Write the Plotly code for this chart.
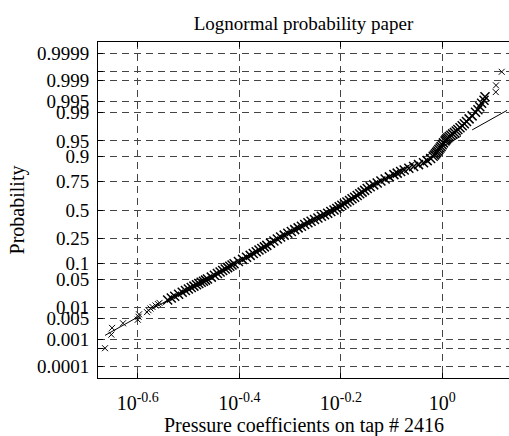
import numpy as np
import plotly.graph_objects as go
from statistics import NormalDist

# Sorted pressure coefficients and their plotting probabilities
cp = [
    0.2165, 0.2228, 0.2235, 0.2349, 0.2512, 0.2521, 0.2526, 0.2619, 0.2637, 0.2661,
    0.2685, 0.2722, 0.2753, 0.2772,
    0.2876, 0.2924, 0.2970, 0.3023, 0.3073, 0.3118, 0.3160, 0.3201, 0.3240, 0.3279,
    0.3313, 0.3349, 0.3383, 0.3415, 0.3446, 0.3506, 0.3556, 0.3605, 0.3649, 0.3692,
    0.3735, 0.3776, 0.3813, 0.3852, 0.3888, 0.3965, 0.4041, 0.4114, 0.4183, 0.4242,
    0.4299, 0.4353, 0.4409, 0.4461, 0.4510, 0.4587, 0.4658, 0.4731, 0.4802, 0.4881,
    0.4961, 0.5041, 0.5119, 0.5199, 0.5277, 0.5357, 0.5435, 0.5514, 0.5600, 0.5687,
    0.5776, 0.5860, 0.5946, 0.6030, 0.6118, 0.6196, 0.6264, 0.6339, 0.6414, 0.6487,
    0.6564, 0.6639, 0.6718, 0.6797, 0.6875, 0.6950, 0.7030, 0.7113, 0.7210, 0.7326,
    0.7443, 0.7569, 0.7715, 0.7863, 0.8029, 0.8150, 0.8277, 0.8413, 0.8591, 0.8780,
    0.8977, 0.9183, 0.9338, 0.9484, 0.9596, 0.9653, 0.9701, 0.9745, 0.9794, 0.9843,
    0.9897, 0.9946, 0.9995, 1.0050, 1.0123, 1.0165, 1.0206, 1.0257, 1.0323, 1.0398,
    1.0478, 1.0564, 1.0651, 1.0731, 1.0836, 1.0945, 1.1050, 1.1161, 1.1293, 1.1448,
    1.1626, 1.1753, 1.1855, 1.1952, 1.2083, 1.2138, 1.2745, 1.2759, 1.3093,
]
prob = [
    0.0005, 0.0015, 0.0025, 0.0035, 0.0045, 0.0055, 0.0065, 0.0075, 0.0085, 0.0095,
    0.0105, 0.0115, 0.0125, 0.0135,
    0.016, 0.018, 0.02, 0.0225, 0.025, 0.0275, 0.03, 0.0325, 0.035, 0.0375,
    0.04, 0.0425, 0.045, 0.0475, 0.05, 0.055, 0.06, 0.065, 0.07, 0.075,
    0.08, 0.085, 0.09, 0.095, 0.1, 0.11, 0.12, 0.13, 0.14, 0.15,
    0.16, 0.17, 0.18, 0.19, 0.2, 0.215, 0.23, 0.245, 0.26, 0.275,
    0.29, 0.305, 0.32, 0.335, 0.35, 0.365, 0.38, 0.395, 0.41, 0.425,
    0.44, 0.455, 0.47, 0.485, 0.5, 0.515, 0.53, 0.545, 0.56, 0.575,
    0.59, 0.605, 0.62, 0.635, 0.65, 0.665, 0.68, 0.695, 0.71, 0.725,
    0.74, 0.755, 0.77, 0.785, 0.8, 0.81, 0.82, 0.83, 0.84, 0.85,
    0.86, 0.87, 0.88, 0.89, 0.9, 0.905, 0.91, 0.915, 0.92, 0.925,
    0.93, 0.935, 0.94, 0.945, 0.95, 0.9525, 0.955, 0.9575, 0.96, 0.9625,
    0.965, 0.9675, 0.97, 0.9725, 0.975, 0.9775, 0.98, 0.9825, 0.985, 0.9875,
    0.99, 0.9915, 0.993, 0.9945, 0.9955, 0.9965, 0.9975, 0.9985, 0.9995,
]

# Probability-paper tick marks (blank label = grid line only)
prob_ticks = [0.0001, 0.0005, 0.001, 0.005, 0.01, 0.05, 0.1, 0.25, 0.5,
              0.75, 0.9, 0.95, 0.99, 0.995, 0.999, 0.9995, 0.9999]
prob_labels = ["0.0001", "", "0.001", "0.005", "0.01", "0.05", "0.1", "0.25", "0.5",
               "0.75", "0.9", "0.95", "0.99", "0.995", "0.999", "", "0.9999"]
x_exponents = [-0.6, -0.4, -0.2, 0]

nd = NormalDist()
z = np.array([nd.inv_cdf(p) for p in prob])
z_ticks = [nd.inv_cdf(p) for p in prob_ticks]
logcp = np.log10(cp)
prob_arr = np.array(prob)

# Reference line through the first and third quartiles (log scale)
z1, z3 = nd.inv_cdf(0.25), nd.inv_cdf(0.75)
q1 = np.interp(z1, z, logcp)
q3 = np.interp(z3, z, logcp)
slope = (z3 - z1) / (q3 - q1)


def line_z(lx):
    return z1 + slope * (np.asarray(lx) - q1)


x_lo, x_hi = -0.6784, 0.1314
font_family = "Liberation Serif, Times New Roman, serif"

fig = go.Figure()

# extrapolated parts of the reference line
left_lx = np.array([q1, logcp.min()])
right_lx = np.array([q3, 0.2])
for seg in (left_lx, right_lx):
    fig.add_trace(go.Scatter(
        x=10 ** seg, y=line_z(seg), mode="lines",
        line=dict(color="black", width=1, dash="40px,13px"),
        hoverinfo="skip", showlegend=False))
# solid part between the quartiles
mid_lx = np.array([q1, q3])
fig.add_trace(go.Scatter(
    x=10 ** mid_lx, y=line_z(mid_lx), mode="lines",
    line=dict(color="black", width=1), hoverinfo="skip", showlegend=False))

# sample points: sparse tails drawn lighter than the dense body
tail = (prob_arr < 0.015) | (prob_arr > 0.997)
for mask, size, lw in ((tail, 6, 1.0), (~tail, 9, 1.5)):
    fig.add_trace(go.Scatter(
        x=np.array(cp)[mask], y=z[mask], mode="markers",
        marker=dict(symbol="x-thin", size=size, color="black",
                    line=dict(color="black", width=lw)),
        showlegend=False))

grid = dict(showgrid=True, gridcolor="#444444", gridwidth=1, griddash="7px,5px")

fig.update_layout(
    width=509, height=436,
    margin=dict(l=98, r=0, t=42, b=58),
    paper_bgcolor="white", plot_bgcolor="white",
    font=dict(family=font_family, size=19, color="black"),
    title=dict(text="Lognormal probability paper", x=0.5963, xanchor="center",
               y=1 - 23 / 436, yanchor="middle", yref="container",
               font=dict(family=font_family, size=19, color="black")),
    xaxis=dict(
        type="log", range=[x_lo, x_hi],
        tickvals=[10 ** e for e in x_exponents],
        ticktext=["10<sup>%g</sup>" % e for e in x_exponents],
        tickfont=dict(size=20),
        ticks="inside", ticklen=5, tickcolor="black",
        ticklabelstandoff=7,
        showline=True, linecolor="black", linewidth=1, mirror="ticks",
        **grid),
    yaxis=dict(
        range=[-4, 4], zeroline=False,
        tickvals=z_ticks, ticktext=prob_labels,
        ticks="inside", ticklen=5, tickcolor="black",
        showline=True, linecolor="black", linewidth=1, mirror=False,
        ticklabelstandoff=4,
        title=dict(text="Probability", font=dict(size=20), standoff=6),
        **grid),
    annotations=[dict(
        text="Pressure coefficients on tap # 2416", showarrow=False,
        xref="paper", yref="paper", x=0.5, y=-(425 - 378) / 336,
        xanchor="center", yanchor="middle",
        font=dict(family=font_family, size=20, color="black"))],
)

fig.write_html("out.html")
